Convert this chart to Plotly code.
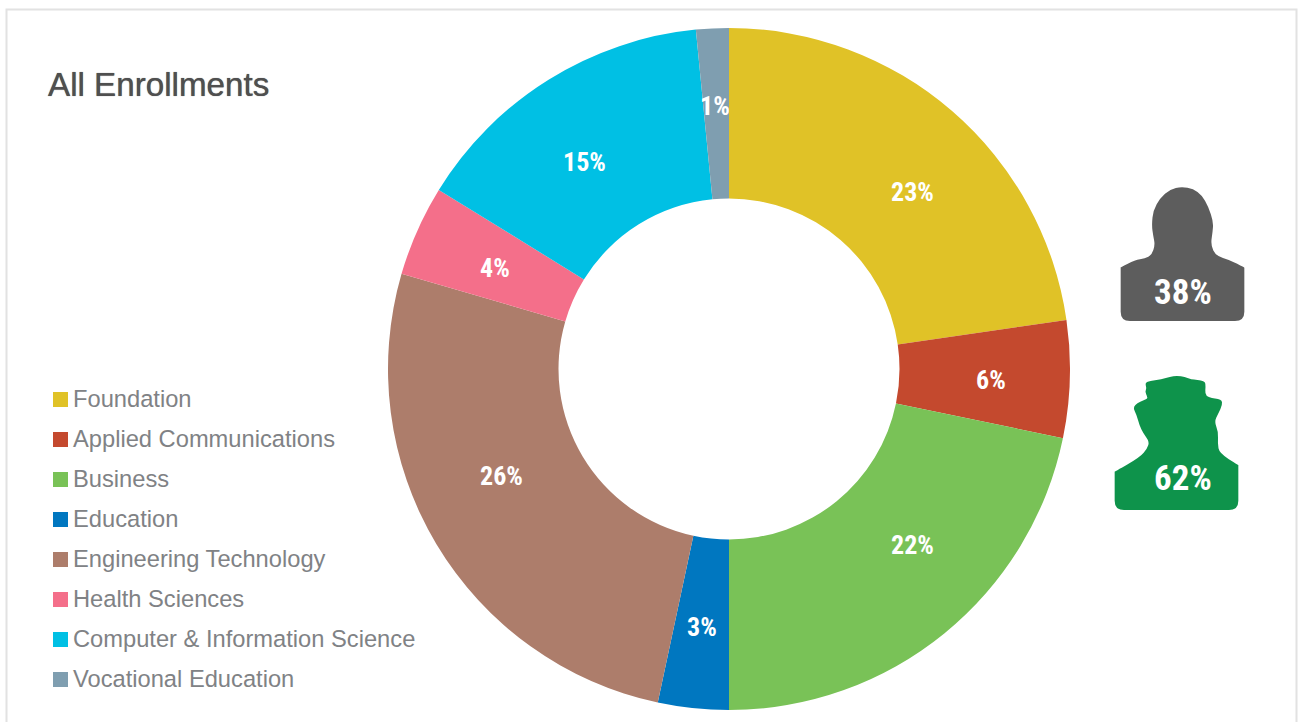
import plotly.graph_objects as go

W, H = 1303, 722

categories = ["Foundation", "Applied Communications", "Business", "Education",
              "Engineering Technology", "Health Sciences",
              "Computer & Information Science", "Vocational Education"]
shares = [22.7, 5.55, 21.75, 3.35, 26.15, 4.3, 14.65, 1.55]
share_labels = ["23%", "6%", "22%", "3%", "26%", "4%", "15%", "1%"]
colors = ["#E0C227", "#C4492E", "#79C257", "#0077C0", "#AD7D6B", "#F46F8A", "#00C0E4", "#7F9EB0"]
gender_labels = ["38%", "62%"]
gender_colors = ["#5D5D5D", "#0E934B"]

label_xy = [(912, 192), (991, 380), (912, 545), (702, 627),
            (501, 476), (495, 268), (584, 162), (715, 106)]

gray_icon = [(92,292),(92,292),(135,270),(165,265),(185,255),(195,225),(190,200),(185,165),(190,120),(210,85),
             (240,58),(275,50),(310,57),(335,75),(355,110),(370,155),(368,185),(362,225),(378,258),
             (420,270),(463,293),(463,293),(463,397),(463,453),(407,453),(148,453),(92,453),(92,397)]
green_icon = [(74,905),(74,905),(150,862),(172,835),(178,815),(160,790),(148,765),(140,735),(130,715),(135,705),
              (150,695),(172,687),(172,680),(165,665),(170,655),(165,640),(175,633),(215,628),(240,620),(260,617),
              (285,620),(300,628),(345,632),(347,650),(345,672),(355,683),(395,688),(397,705),(385,730),(373,755),
              (385,785),(383,820),(388,850),(445,885),(445,885),(445,964),(445,1020),(389,1020),
              (130,1020),(74,1020),(74,964)]


def px(x):
    return x / W


def py(y):
    return 1 - y / H


def zoom_path(points):
    pts = [(1090 + a / 3, 170 + b / 3) for a, b in points]
    n = len(pts)
    mid = lambda p, q: ((p[0] + q[0]) / 2, (p[1] + q[1]) / 2)
    s = mid(pts[-1], pts[0])
    d = f"M{px(s[0]):.5f},{py(s[1]):.5f}"
    for i in range(n):
        c = pts[i]
        e = mid(pts[i], pts[(i + 1) % n])
        d += f" Q{px(c[0]):.5f},{py(c[1]):.5f} {px(e[0]):.5f},{py(e[1]):.5f}"
    return d + " Z"


fig = go.Figure(go.Pie(
    labels=categories, values=shares, sort=False, direction="clockwise", rotation=0,
    hole=0.5, textinfo="none", showlegend=False, hoverinfo="label+percent",
    marker=dict(colors=colors, line=dict(width=0)),
    domain=dict(x=[px(388), px(1070)], y=[py(710), py(28)]),
))

shapes = [dict(type="path", xref="paper", yref="paper", line=dict(width=0), fillcolor=gender_colors[0],
               path=zoom_path(gray_icon)),
          dict(type="path", xref="paper", yref="paper", line=dict(width=0), fillcolor=gender_colors[1],
               path=zoom_path(green_icon)),
          dict(type="rect", xref="paper", yref="paper", x0=px(6.5), x1=px(1296.5), y0=py(740), y1=py(9.5),
               line=dict(color="#E2E2E2", width=2), fillcolor="rgba(0,0,0,0)")]

anns = [dict(text="All Enrollments", x=px(46), y=py(85), xref="paper", yref="paper", xanchor="left",
             yanchor="middle", showarrow=False,
             font=dict(family="Liberation Sans", size=33.2, color="#4F4F4F", shadow="0 0 0.8px #4F4F4F"))]

for i, (name, col) in enumerate(zip(categories, colors)):
    yc = 399.5 + 40 * i
    shapes.append(dict(type="rect", xref="paper", yref="paper", x0=px(53), x1=px(68), y0=py(yc + 7.5),
                       y1=py(yc - 7.5), fillcolor=col, line=dict(width=0)))
    anns.append(dict(text=name, x=px(71), y=py(yc - 0.5), xref="paper", yref="paper", xanchor="left",
                     yanchor="middle", showarrow=False,
                     font=dict(family="Liberation Sans", size=23.7, color="#808285")))

label_font = "Roboto Condensed, Liberation Sans Narrow, Liberation Sans"
for txt, (x, y) in zip(share_labels, label_xy):
    anns.append(dict(text=f"<b>{txt}</b>", x=px(x), y=py(y), xref="paper", yref="paper", showarrow=False,
                     xanchor="center", yanchor="middle",
                     font=dict(family=label_font, size=26, color="white")))

for txt, (x, y) in zip(gender_labels, [(1183, 292), (1183, 478)]):
    anns.append(dict(text=f"<b>{txt}</b>", x=px(x), y=py(y), xref="paper", yref="paper", showarrow=False,
                     xanchor="center", yanchor="middle",
                     font=dict(family=label_font, size=35, color="white")))

fig.update_layout(width=W, height=H, margin=dict(l=0, r=0, t=0, b=0), paper_bgcolor="white",
                  shapes=shapes, annotations=anns)
fig.write_html("out.html", config={"displayModeBar": False},
               post_script="document.body.style.margin='0';document.body.style.overflow='hidden';")
